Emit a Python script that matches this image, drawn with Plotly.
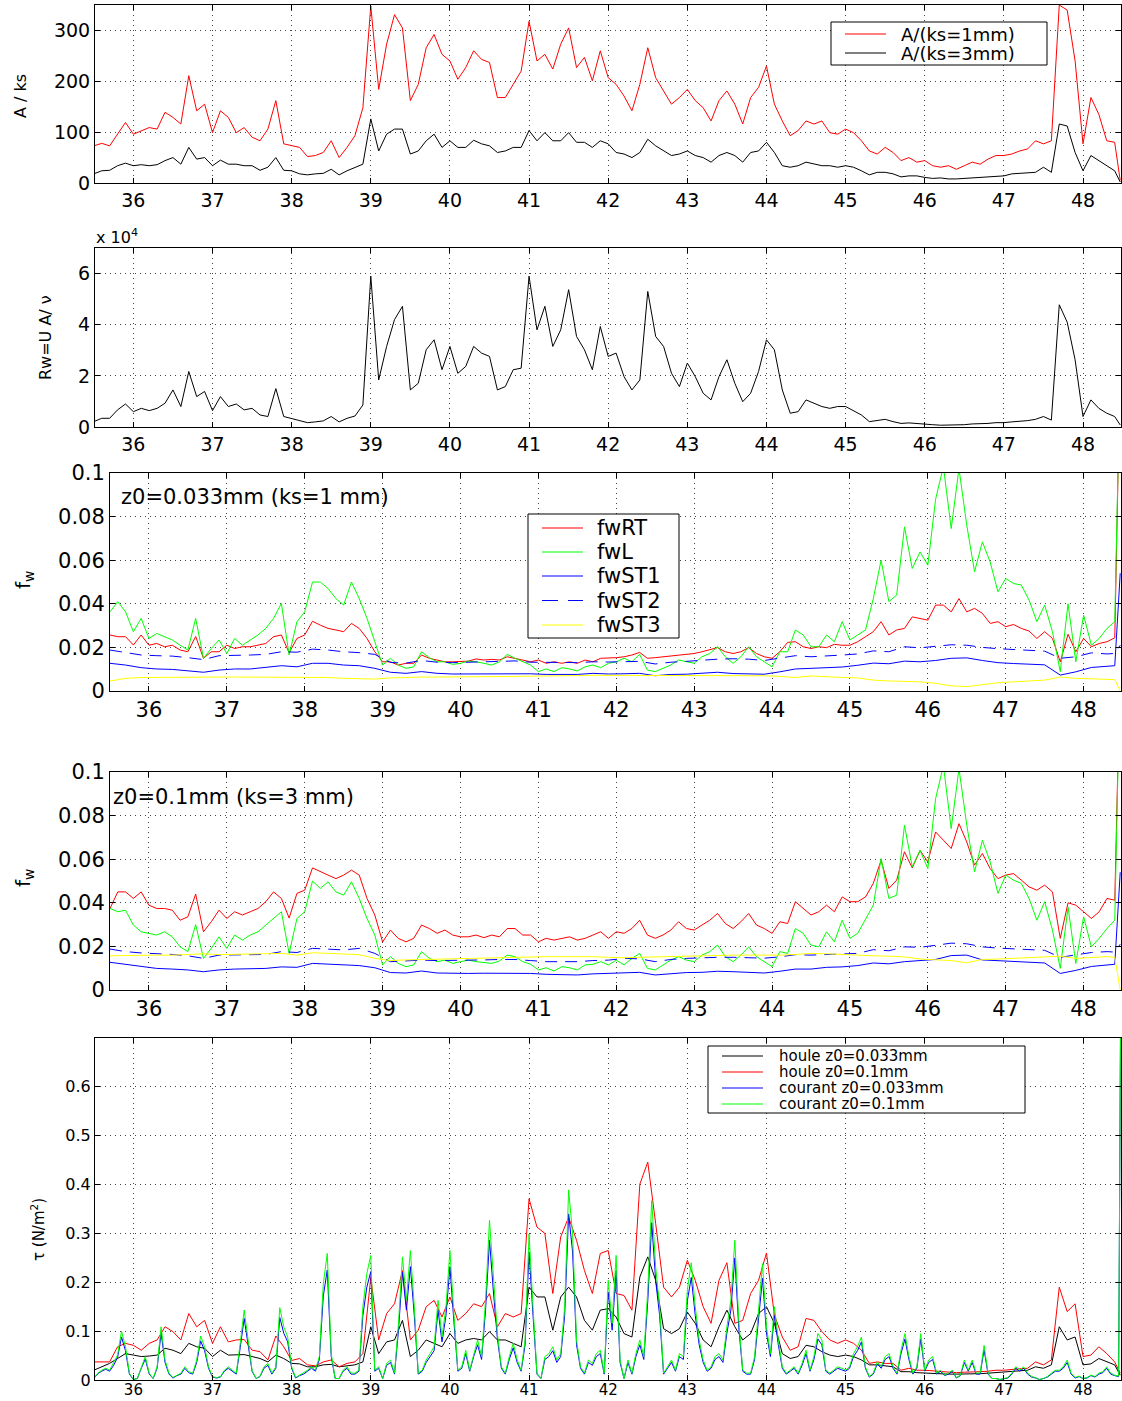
import numpy as np
import plotly.graph_objects as go

# ---------------------------------------------------------------- sampling grids (day of record)
day = np.append(np.round(np.arange(35.5, 48.45, 0.1), 2), 48.47)          # 131 samples
day_st = np.append(np.round(np.arange(35.5, 48.35, 0.2), 2), [48.4, 48.47])  # 67 samples
day_fine = np.append(np.round(np.arange(35.5, 48.475, 0.05), 3), 48.48)     # 261 samples

# ---------------------------------------------------------------- panel 1 : relative amplitude A/ks
a_ks1 = [73, 78, 73, 96, 119,
         96, 103, 109, 106, 139, 129, 116, 211, 142, 155,
         99, 142, 129, 99, 109, 90, 83, 106, 162, 77,
         73, 70, 52, 54, 60, 83, 50, 70, 93, 148,
         348, 184, 273, 331, 305, 162, 194, 266, 292, 253,
         240, 204, 227, 260, 243, 237, 168, 168, 194, 220,
         318, 240, 253, 224, 273, 305, 227, 247, 201, 260,
         207, 194, 171, 142, 194, 266, 207, 181, 155, 168,
         184, 162, 148, 122, 162, 181, 155, 116, 168, 188,
         230, 155, 122, 93, 103, 122, 116, 122, 99, 96,
         106, 99, 83, 63, 57, 70, 60, 44, 50, 41,
         44, 34, 31, 34, 27, 34, 41, 37, 47, 54,
         54, 57, 63, 67, 83, 77, 83, 350, 340, 240,
         77, 168, 135, 83, 80,
         5]
a_ks3 = [18, 24, 25, 34, 39,
         34, 36, 34, 36, 44, 50, 37, 70, 47, 50,
         34, 45, 37, 37, 34, 34, 25, 31, 50, 25,
         24, 18, 16, 18, 19, 27, 16, 24, 31, 37,
         126, 63, 96, 106, 106, 57, 63, 83, 96, 70,
         83, 70, 70, 84, 77, 73, 60, 63, 70, 70,
         103, 83, 99, 83, 83, 99, 80, 80, 70, 83,
         77, 60, 57, 50, 60, 86, 73, 63, 54, 57,
         63, 54, 50, 41, 54, 60, 54, 41, 60, 63,
         80, 60, 34, 31, 34, 41, 37, 34, 34, 31,
         34, 31, 24, 16, 21, 21, 18, 12, 14, 14,
         11, 9, 10, 8, 8, 9, 11, 11, 12, 14,
         14, 18, 19, 21, 21, 31, 21, 116, 112, 60,
         24, 54, 44, 34, 24,
         2]

# ---------------------------------------------------------------- panel 2 : wave Reynolds number (x 1e4)
rw_e4 = [0.21, 0.34, 0.34, 0.67, 0.90,
         0.60, 0.73, 0.64, 0.73, 0.93, 1.45, 0.80, 2.17, 1.19, 1.39,
         0.64, 1.19, 0.80, 0.90, 0.67, 0.73, 0.47, 0.41, 1.50, 0.41,
         0.34, 0.27, 0.17, 0.20, 0.24, 0.41, 0.20, 0.34, 0.43, 0.86,
         5.90, 1.84, 3.15, 4.20, 4.72, 1.45, 1.71, 3.02, 3.41, 2.24,
         3.15, 2.10, 2.37, 3.15, 2.89, 2.76, 1.45, 1.58, 2.24, 2.30,
         5.90, 3.80, 4.72, 3.15, 3.80, 5.37, 3.54, 3.02, 2.24, 3.93,
         2.76, 2.89, 1.97, 1.45, 1.84, 5.30, 3.54, 3.15, 2.10, 1.58,
         2.50, 1.97, 1.32, 1.06, 1.97, 2.63, 1.71, 0.99, 1.32, 2.17,
         3.41, 3.02, 1.45, 0.54, 0.60, 1.06, 0.93, 0.80, 0.73, 0.80,
         0.80, 0.64, 0.47, 0.21, 0.27, 0.30, 0.21, 0.14, 0.16, 0.13,
         0.12, 0.09, 0.07, 0.07, 0.08, 0.09, 0.12, 0.12, 0.14, 0.17,
         0.17, 0.20, 0.22, 0.25, 0.30, 0.41, 0.27, 4.78, 4.10, 2.63,
         0.41, 1.06, 0.73, 0.54, 0.41,
         0.08]

# ---------------------------------------------------------------- panel 3 : friction factors, ks = 1 mm
fwRT_1 = [.0257, .0249, .0249, .0211, .0257,
          .0210, .0218, .0203, .0210, .0188, .0180, .0250, .0150, .0180, .0180,
          .0210, .0195, .0203, .0203, .0210, .0218, .0249, .0257, .0175, .0241,
          .0257, .0320, .0302, .0287, .0280, .0272, .0310, .0287, .0241, .0180,
          .0134, .0134, .0119, .0127, .0127, .0165, .0150, .0142, .0134, .0134,
          .0134, .0137, .0147, .0142, .0145, .0142, .0157, .0150, .0142, .0134,
          .0142, .0127, .0134, .0127, .0134, .0127, .0142, .0134, .0150, .0150,
          .0153, .0157, .0165, .0177, .0150, .0153, .0157, .0162, .0165, .0168,
          .0172, .0180, .0188, .0199, .0180, .0172, .0180, .0199, .0172, .0157,
          .0150, .0180, .0223, .0226, .0203, .0195, .0203, .0199, .0214, .0210,
          .0210, .0226, .0249, .0272, .0318, .0257, .0280, .0287, .0340, .0333,
          .0325, .0394, .0394, .0363, .0424, .0363, .0379, .0356, .0310, .0318,
          .0295, .0305, .0287, .0275, .0241, .0272, .0241, .0134, .0260, .0180,
          .0241, .0203, .0218, .0226, .0244,
          .1500]
fwL_1 = [.0363, .0410, .0363, .0272, .0333,
         .0241, .0264, .0249, .0234, .0210, .0188, .0333, .0150, .0195, .0234,
         .0172, .0241, .0210, .0234, .0257, .0287, .0333, .0402, .0165, .0318,
         .0363, .0500, .0500, .0470, .0424, .0394, .0500, .0424, .0333, .0226,
         .0119, .0150, .0119, .0104, .0111, .0180, .0153, .0134, .0134, .0122,
         .0127, .0137, .0134, .0127, .0119, .0134, .0168, .0150, .0134, .0119,
         .0089, .0101, .0089, .0107, .0101, .0092, .0111, .0119, .0107, .0127,
         .0134, .0150, .0134, .0168, .0096, .0089, .0104, .0119, .0142, .0134,
         .0127, .0157, .0172, .0203, .0157, .0127, .0157, .0203, .0157, .0134,
         .0111, .0180, .0180, .0280, .0257, .0203, .0203, .0257, .0226, .0318,
         .0234, .0257, .0280, .0424, .0600, .0410, .0440, .0753, .0562, .0638,
         .0577, .0880, .1030, .0745, .1020, .0760, .0547, .0684, .0592, .0455,
         .0516, .0493, .0486, .0417, .0318, .0394, .0272, .0089, .0400, .0134,
         .0348, .0210, .0241, .0287, .0318,
         .1500]
fwST1_1 = [.0127, .0119, .0107, .0101, .0099, .0092, .0086, .0096, .0101, .0101,
           .0107, .0116, .0111, .0127, .0127, .0119, .0116, .0104, .0086, .0081,
           .0089, .0081, .0078, .0078, .0079, .0079, .0081, .0079, .0076, .0076,
           .0076, .0081, .0078, .0079, .0081, .0070, .0076, .0077, .0082, .0086,
           .0080, .0078, .0077, .0088, .0101, .0104, .0108, .0110, .0118, .0128,
           .0125, .0137, .0134, .0140, .0150, .0152, .0140, .0130, .0126, .0122,
           .0120, .0073, .0088, .0108, .0112, .0116, .0540]
fwST2_1 = [.0188, .0176, .0165, .0162, .0160, .0153, .0144, .0162, .0162, .0165,
           .0168, .0180, .0178, .0192, .0188, .0180, .0176, .0168, .0131, .0128,
           .0140, .0132, .0130, .0132, .0134, .0134, .0138, .0132, .0130, .0131,
           .0130, .0134, .0133, .0134, .0136, .0124, .0132, .0136, .0142, .0146,
           .0148, .0146, .0140, .0150, .0162, .0157, .0160, .0165, .0170, .0184,
           .0180, .0203, .0198, .0204, .0212, .0210, .0200, .0194, .0190, .0186,
           .0183, .0150, .0157, .0175, .0170, .0172, .0210]
fwST3_1 = [.0046, .0058, .0062, .0063, .0064, .0064, .0063, .0064, .0064, .0064,
           .0064, .0065, .0063, .0064, .0062, .0058, .0056, .0055, .0060, .0063,
           .0064, .0064, .0064, .0065, .0066, .0066, .0067, .0068, .0070, .0071,
           .0071, .0072, .0072, .0073, .0073, .0072, .0073, .0073, .0072, .0072,
           .0071, .0071, .0070, .0067, .0062, .0069, .0064, .0062, .0060, .0050,
           .0046, .0045, .0042, .0035, .0024, .0020, .0030, .0038, .0042, .0046,
           .0050, .0064, .0058, .0056, .0054, .0052, .0000]

# ---------------------------------------------------------------- panel 4 : friction factors, ks = 3 mm
fwRT_3 = [.0374, .0450, .0450, .0420, .0450,
          .0389, .0374, .0374, .0366, .0320, .0336, .0440, .0267, .0313, .0366,
          .0328, .0359, .0344, .0359, .0374, .0405, .0450, .0420, .0330, .0443,
          .0458, .0560, .0542, .0527, .0511, .0527, .0550, .0527, .0420, .0344,
          .0220, .0275, .0237, .0221, .0237, .0298, .0282, .0260, .0275, .0252,
          .0244, .0244, .0252, .0240, .0252, .0244, .0282, .0282, .0252, .0252,
          .0221, .0237, .0229, .0237, .0244, .0229, .0237, .0252, .0267, .0237,
          .0267, .0260, .0282, .0320, .0252, .0237, .0252, .0275, .0313, .0282,
          .0275, .0298, .0320, .0351, .0305, .0282, .0313, .0351, .0298, .0282,
          .0260, .0313, .0305, .0405, .0374, .0344, .0359, .0389, .0359, .0427,
          .0405, .0405, .0427, .0489, .0595, .0466, .0504, .0634, .0560, .0640,
          .0588, .0725, .0687, .0649, .0763, .0679, .0573, .0626, .0557, .0511,
          .0527, .0534, .0504, .0473, .0458, .0481, .0450, .0237, .0400, .0389,
          .0359, .0328, .0359, .0420, .0412,
          .1500]
fwL_3 = [.0374, .0359, .0366, .0298, .0267,
         .0260, .0252, .0267, .0244, .0198, .0176, .0300, .0145, .0191, .0244,
         .0191, .0252, .0229, .0252, .0267, .0298, .0328, .0359, .0168, .0328,
         .0359, .0500, .0466, .0496, .0450, .0435, .0496, .0420, .0328, .0252,
         .0115, .0153, .0122, .0107, .0115, .0176, .0145, .0130, .0137, .0122,
         .0130, .0137, .0130, .0127, .0122, .0133, .0160, .0153, .0130, .0118,
         .0092, .0102, .0087, .0107, .0102, .0092, .0115, .0118, .0130, .0115,
         .0137, .0115, .0145, .0168, .0099, .0092, .0115, .0137, .0153, .0137,
         .0130, .0160, .0176, .0206, .0153, .0130, .0160, .0198, .0153, .0130,
         .0107, .0176, .0168, .0282, .0260, .0206, .0198, .0267, .0221, .0320,
         .0237, .0260, .0328, .0389, .0603, .0420, .0435, .0756, .0565, .0641,
         .0557, .0878, .1030, .0740, .1015, .0756, .0542, .0687, .0588, .0443,
         .0527, .0504, .0489, .0420, .0320, .0405, .0275, .0099, .0380, .0122,
         .0336, .0198, .0237, .0282, .0320,
         .1500]
fwST1_3 = [.0127, .0118, .0106, .0099, .0096, .0092, .0084, .0092, .0096, .0096,
           .0099, .0106, .0104, .0122, .0118, .0115, .0112, .0102, .0080, .0078,
           .0087, .0078, .0076, .0076, .0077, .0076, .0078, .0076, .0072, .0072,
           .0069, .0074, .0076, .0080, .0081, .0069, .0076, .0080, .0081, .0086,
           .0084, .0082, .0078, .0086, .0096, .0096, .0104, .0106, .0112, .0124,
           .0120, .0130, .0136, .0140, .0158, .0160, .0138, .0134, .0130, .0128,
           .0124, .0076, .0090, .0108, .0114, .0118, .0540]
fwST2_3 = [.0188, .0176, .0170, .0168, .0163, .0157, .0145, .0160, .0160, .0162,
           .0163, .0176, .0172, .0191, .0186, .0184, .0191, .0168, .0130, .0133,
           .0137, .0135, .0135, .0137, .0138, .0140, .0140, .0135, .0130, .0130,
           .0130, .0135, .0137, .0145, .0143, .0130, .0140, .0145, .0148, .0150,
           .0150, .0148, .0146, .0152, .0162, .0160, .0162, .0165, .0168, .0185,
           .0180, .0198, .0196, .0205, .0215, .0212, .0198, .0192, .0188, .0185,
           .0182, .0150, .0160, .0172, .0176, .0174, .0210]
fwST3_3 = [.0157, .0158, .0162, .0160, .0160, .0162, .0166, .0162, .0163, .0164,
           .0166, .0168, .0160, .0171, .0168, .0164, .0162, .0145, .0135, .0138,
           .0140, .0142, .0144, .0145, .0147, .0150, .0151, .0152, .0153, .0153,
           .0154, .0153, .0150, .0148, .0150, .0152, .0154, .0155, .0157, .0158,
           .0160, .0160, .0159, .0160, .0163, .0168, .0166, .0162, .0160, .0157,
           .0155, .0152, .0142, .0140, .0135, .0125, .0140, .0142, .0145, .0148,
           .0150, .0155, .0145, .0150, .0153, .0150, .0000]

# ---------------------------------------------------------------- panel 5 : bed shear stress (N/m2)
tau_houle_033 = [.020, .027, .034, .044, .054,
                 .051, .048, .049, .051, .065, .061, .054, .075, .068, .065,
                 .048, .061, .051, .052, .052, .048, .044, .037, .051, .044,
                 .034, .033, .027, .027, .031, .032, .027, .029, .031, .037,
                 .109, .054, .078, .082, .122, .048, .061, .082, .075, .068,
                 .095, .075, .082, .085, .082, .099, .082, .082, .075, .068,
                 .190, .170, .170, .102, .170, .190, .170, .122, .102, .143,
                 .146, .129, .095, .088, .211, .252, .204, .105, .095, .105,
                 .139, .116, .082, .068, .109, .143, .109, .082, .095, .136,
                 .150, .116, .054, .044, .048, .071, .068, .058, .051, .048,
                 .051, .048, .041, .031, .031, .029, .027, .017, .017, .015,
                 .014, .014, .012, .012, .012, .012, .012, .013, .014, .015,
                 .016, .017, .018, .020, .027, .024, .031, .109, .082, .088,
                 .031, .033, .044, .037, .031,
                 .010]
tau_houle_01 = [.037, .037, .037, .068, .075,
                .071, .061, .075, .082, .109, .099, .082, .136, .109, .122,
                .075, .109, .078, .082, .083, .061, .058, .041, .090, .068,
                .040, .044, .031, .029, .037, .041, .027, .034, .037, .054,
                .210, .082, .136, .156, .224, .082, .102, .150, .163, .129,
                .170, .122, .136, .156, .150, .177, .109, .136, .129, .136,
                .371, .313, .300, .177, .293, .333, .286, .224, .177, .259,
                .265, .177, .173, .143, .401, .446, .320, .190, .170, .190,
                .245, .204, .150, .116, .204, .240, .116, .122, .177, .204,
                .260, .133, .088, .061, .068, .126, .122, .099, .082, .075,
                .082, .075, .061, .034, .037, .034, .034, .020, .024, .020,
                .020, .019, .017, .017, .015, .016, .016, .017, .018, .020,
                .020, .022, .023, .024, .037, .031, .041, .190, .140, .156,
                .048, .051, .068, .054, .037,
                .014]
tau_courant_033 = [.003, .013, .018, .022, .018, .030, .046, .088, .060, .012,
                   .001, .003, .024, .043, .012, .003, .024, .096, .036, .012,
                   .004, .009, .012, .024, .015, .012, .036, .080, .060, .024,
                   .006, .004, .006, .018, .024, .018, .012, .066, .126, .072,
                   .018, .003, .007, .024, .030, .012, .024, .128, .096, .078,
                   .024, .004, .009, .012, .018, .024, .018, .042, .172, .225,
                   .048, .003, .003, .018, .024, .012, .012, .018, .132, .190,
                   .222, .018, .024, .003, .030, .036, .012, .102, .220, .143,
                   .232, .132, .012, .018, .036, .048, .060, .143, .078, .132,
                   .232, .120, .018, .024, .054, .018, .048, .072, .042, .143,
                   .286, .180, .084, .024, .012, .042, .066, .036, .018, .072,
                   .262, .132, .012, .003, .042, .048, .060, .036, .048, .132,
                   .340, .262, .072, .024, .012, .036, .030, .048, .054, .012,
                   .180, .102, .224, .036, .003, .036, .012, .048, .072, .042,
                   .162, .322, .203, .132, .012, .024, .036, .018, .048, .042,
                   .162, .210, .132, .072, .036, .018, .024, .042, .048, .036,
                   .096, .143, .250, .107, .018, .012, .012, .042, .120, .208,
                   .096, .048, .132, .072, .024, .012, .018, .024, .012, .030,
                   .054, .018, .042, .084, .072, .018, .012, .018, .024, .021,
                   .018, .024, .048, .060, .078, .024, .006, .012, .033, .024,
                   .042, .048, .024, .012, .054, .084, .042, .012, .024, .084,
                   .018, .036, .042, .012, .018, .009, .012, .018, .004, .009,
                   .036, .018, .036, .012, .012, .062, .012, .003, .003, .001,
                   .003, .004, .012, .024, .018, .024, .012, .006, .004, .001,
                   .003, .006, .012, .018, .018, .024, .036, .012, .004, .007,
                   .003, .004, .009, .006, .012, .015, .024, .012, .009, .007,
                   .900]
tau_courant_01 = [.003, .014, .020, .024, .020, .034, .051, .100, .068, .014,
                  .001, .003, .027, .048, .014, .003, .027, .109, .041, .014,
                  .005, .010, .014, .027, .017, .014, .041, .090, .068, .027,
                  .007, .005, .007, .020, .027, .020, .014, .075, .143, .082,
                  .020, .003, .008, .027, .034, .014, .027, .148, .109, .088,
                  .027, .005, .010, .014, .020, .027, .020, .048, .197, .259,
                  .054, .003, .003, .020, .027, .014, .014, .020, .150, .218,
                  .255, .020, .027, .003, .034, .041, .014, .116, .252, .163,
                  .265, .150, .014, .020, .041, .054, .068, .163, .088, .150,
                  .265, .136, .020, .027, .061, .020, .054, .082, .048, .163,
                  .327, .204, .095, .027, .014, .048, .075, .041, .020, .082,
                  .299, .150, .014, .003, .048, .054, .068, .041, .054, .150,
                  .389, .299, .082, .027, .014, .041, .034, .054, .061, .014,
                  .204, .116, .255, .041, .003, .041, .014, .054, .082, .048,
                  .184, .367, .231, .150, .014, .027, .041, .020, .054, .048,
                  .184, .240, .150, .082, .041, .020, .027, .048, .054, .041,
                  .109, .163, .286, .122, .020, .014, .014, .048, .136, .238,
                  .109, .054, .150, .082, .027, .014, .020, .027, .014, .034,
                  .061, .020, .048, .095, .082, .020, .014, .020, .027, .024,
                  .020, .027, .054, .068, .088, .027, .007, .014, .037, .027,
                  .048, .054, .027, .014, .061, .095, .048, .014, .027, .095,
                  .020, .041, .048, .014, .020, .010, .014, .020, .005, .010,
                  .041, .020, .041, .014, .014, .071, .014, .003, .003, .001,
                  .003, .005, .014, .027, .020, .027, .014, .007, .005, .001,
                  .003, .007, .014, .020, .020, .027, .041, .014, .005, .008,
                  .003, .005, .010, .007, .014, .017, .027, .014, .010, .008,
                  .900]

for s in (a_ks1, a_ks3, rw_e4, fwRT_1, fwL_1, fwRT_3, fwL_3, tau_houle_033, tau_houle_01):
    assert len(s) == len(day), len(s)
for s in (fwST1_1, fwST2_1, fwST3_1, fwST1_3, fwST2_3, fwST3_3):
    assert len(s) == len(day_st), len(s)
for s in (tau_courant_033, tau_courant_01):
    assert len(s) == len(day_fine), len(s)

day_ticks = list(range(36, 49))

RED, GREEN, BLUE, YELLOW, BLACK = "#ff0000", "#00ff00", "#0000ff", "#ffff00", "#000000"
ST2_DASH = "12px,8px"

# ---------------------------------------------------------------- figure
W, H = 1122, 1401
FONT = "DejaVu Sans, Liberation Sans, sans-serif"


def px_x(v):
    return v / W


def px_y(v):
    return 1 - v / H


fig = go.Figure()


def line(x, y, color, name, xa, ya, dash="solid"):
    fig.add_trace(go.Scatter(
        x=x, y=y, mode="lines", name=name, xaxis=xa, yaxis=ya,
        line=dict(color=color, width=1, dash=dash), showlegend=False,
    ))


# panel 1
line(day, a_ks1, RED, "A/(ks=1mm)", "x", "y")
line(day, a_ks3, BLACK, "A/(ks=3mm)", "x", "y")
# panel 2
line(day, rw_e4, BLACK, "Rw", "x2", "y2")
# panel 3
line(day, fwRT_1, RED, "fwRT", "x3", "y3")
line(day, fwL_1, GREEN, "fwL", "x3", "y3")
line(day_st, fwST1_1, BLUE, "fwST1", "x3", "y3")
line(day_st, fwST2_1, BLUE, "fwST2", "x3", "y3", dash=ST2_DASH)
line(day_st, fwST3_1, YELLOW, "fwST3", "x3", "y3")
# panel 4
line(day, fwRT_3, RED, "fwRT", "x4", "y4")
line(day, fwL_3, GREEN, "fwL", "x4", "y4")
line(day_st, fwST1_3, BLUE, "fwST1", "x4", "y4")
line(day_st, fwST2_3, BLUE, "fwST2", "x4", "y4", dash=ST2_DASH)
line(day_st, fwST3_3, YELLOW, "fwST3", "x4", "y4")
# panel 5
line(day, tau_houle_033, BLACK, "houle z0=0.033mm", "x5", "y5")
line(day, tau_houle_01, RED, "houle z0=0.1mm", "x5", "y5")
line(day_fine, tau_courant_033, BLUE, "courant z0=0.033mm", "x5", "y5")
line(day_fine, tau_courant_01, GREEN, "courant z0=0.1mm", "x5", "y5")

axis_common = dict(
    showline=True, linecolor="black", linewidth=1, mirror="ticks",
    ticks="inside", ticklen=5, tickcolor="black", tickwidth=1,
    showgrid=True, gridcolor="#444444", griddash="1px,4px", gridwidth=1,
    zeroline=False, fixedrange=True, automargin=False,
)

wide = [px_x(95), px_x(1121)]
narrow = [px_x(110), px_x(1121)]
panels = [
    # (domain x, top px, bottom px, x range, x tick size, x tick label shift)
    (wide, 5, 183, [35.515, 48.48], 19, 0),
    (wide, 248, 427, [35.515, 48.48], 19, 0),
    (narrow, 473, 691, [35.5, 48.48], 21, 0),
    (narrow, 772, 990, [35.5, 48.48], 21, 0),
    (wide, 1038, 1380, [35.515, 48.48], 15, -4),
]
fw_ticks = [0, .02, .04, .06, .08, .1]
fw_text = ["0", "0.02", "0.04", "0.06", "0.08", "0.1"]
y_specs = [
    dict(range=[0, 350], tickvals=[0, 100, 200, 300], size=19),
    dict(range=[0, 7], tickvals=[0, 2, 4, 6], size=19),
    dict(range=[0, 0.1], tickvals=fw_ticks, ticktext=fw_text, size=21),
    dict(range=[0, 0.1], tickvals=fw_ticks, ticktext=fw_text, size=21),
    dict(range=[0, 0.7], tickvals=[0, .1, .2, .3, .4, .5, .6],
         ticktext=["0", "0.1", "0.2", "0.3", "0.4", "0.5", "0.6"], size=16),
]

layout_axes = {}
for i, ((dx, top, bot, xr, xs, shift), ys) in enumerate(zip(panels, y_specs), start=1):
    sfx = "" if i == 1 else str(i)
    xax = dict(
        axis_common, domain=dx, range=xr, tickvals=day_ticks,
        anchor="y" + sfx, tickfont=dict(size=xs, color="black", family=FONT),
    )
    if shift:
        xax["ticklabelstandoff"] = shift
    layout_axes["xaxis" + sfx] = xax
    yax = dict(
        axis_common, domain=[px_y(bot), px_y(top)], range=ys["range"],
        tickvals=ys["tickvals"], anchor="x" + sfx,
        tickfont=dict(size=ys["size"], color="black", family=FONT),
    )
    if "ticktext" in ys:
        yax["ticktext"] = ys["ticktext"]
    layout_axes["yaxis" + sfx] = yax

# ---------------------------------------------------------------- legend boxes, drawn in pixel space
shapes = []
annotations = []


def legend_box(x0, y0, x1, y1, entries, line_x, text_x, size):
    shapes.append(dict(type="rect", xref="paper", yref="paper",
                       x0=px_x(x0), x1=px_x(x1), y0=px_y(y1), y1=px_y(y0),
                       line=dict(color="black", width=1), fillcolor="white", layer="above"))
    for label, color, dash, yy in entries:
        shapes.append(dict(type="line", xref="paper", yref="paper",
                           x0=px_x(line_x[0]), x1=px_x(line_x[1]), y0=px_y(yy), y1=px_y(yy),
                           line=dict(color=color, width=1.2, dash=dash), layer="above"))
        annotations.append(dict(text=label, x=text_x, y=yy, size=size, xanchor="left"))


legend_box(831, 22, 1047, 65,
           [("A/(ks=1mm)", RED, "solid", 34), ("A/(ks=3mm)", BLACK, "solid", 53)],
           (845, 886), 899, 18)
legend_box(528, 514, 679, 638,
           [("fwRT", RED, "solid", 528), ("fwL", GREEN, "solid", 552),
            ("fwST1", BLUE, "solid", 576), ("fwST2", BLUE, "16px,10px", 600.5),
            ("fwST3", YELLOW, "solid", 625)],
           (542, 583), 595, 21)
legend_box(708, 1046, 1025, 1113,
           [("houle z0=0.033mm", BLACK, "solid", 1056), ("houle z0=0.1mm", RED, "solid", 1072),
            ("courant z0=0.033mm", BLUE, "solid", 1088), ("courant z0=0.1mm", GREEN, "solid", 1104)],
           (722, 763), 777, 15)

annotations += [
    dict(text="A / ks", x=21, y=96, textangle=-90, size=16),
    dict(text="x 10<sup>4</sup>", x=94, y=236, size=16, xanchor="left"),
    dict(text="Rw=U A/ \u03bd", x=45, y=338, textangle=-90, size=16),
    dict(text="f<sub>w</sub>", x=24, y=580, textangle=-90, size=20),
    dict(text="z0=0.033mm (ks=1 mm)", x=119, y=497, size=21, xanchor="left"),
    dict(text="f<sub>w</sub>", x=24, y=878, textangle=-90, size=20),
    dict(text="z0=0.1mm (ks=3 mm)", x=111, y=797, size=21, xanchor="left"),
    dict(text="\u03c4 (N/m<sup>2</sup>)", x=38, y=1230, textangle=-90, size=15),
]

fig.update_layout(
    width=W, height=H,
    margin=dict(l=0, r=0, t=0, b=0, pad=0, autoexpand=False),
    paper_bgcolor="white", plot_bgcolor="white",
    font=dict(family=FONT, color="black"),
    showlegend=False,
    shapes=shapes,
    annotations=[
        dict(text=a["text"], x=px_x(a["x"]), y=px_y(a["y"]), xref="paper", yref="paper",
             showarrow=False, textangle=a.get("textangle", 0),
             xanchor=a.get("xanchor", "center"), yanchor="middle",
             font=dict(size=a["size"], family=FONT, color="black"))
        for a in annotations
    ],
    **layout_axes,
)

fig.write_html("out.html")
